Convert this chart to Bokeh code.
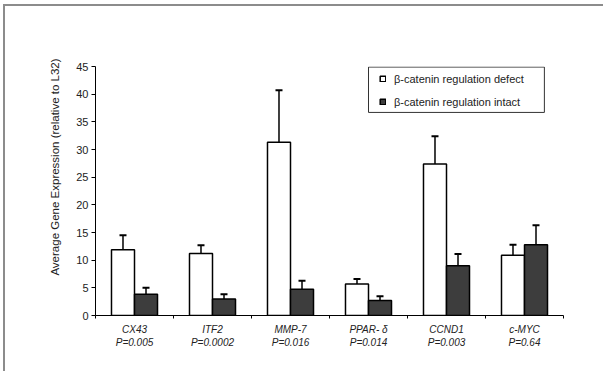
from bokeh.plotting import figure
from bokeh.models import (Range1d, FixedTicker, ColumnDataSource, Whisker, TeeHead,
                          Legend, LegendItem, LinearAxis, BoxAnnotation)
from bokeh.embed import file_html
from bokeh.resources import INLINE

genes = ["CX43", "ITF2", "MMP-7", "PPAR- \u03b4", "CCND1", "c-MYC"]
pvals = ["P=0.005", "P=0.0002", "P=0.016", "P=0.014", "P=0.003", "P=0.64"]
defect = [11.9, 11.2, 31.3, 5.7, 27.4, 10.9]
defect_err = [2.6, 1.5, 9.4, 0.9, 5.0, 1.9]
intact = [3.85, 3.0, 4.75, 2.7, 9.0, 12.8]
intact_err = [1.15, 0.85, 1.55, 0.8, 2.1, 3.5]
yticks = [0, 5, 10, 15, 20, 25, 30, 35, 40, 45]

BW = 0.295
centers = [i + 0.5 for i in range(len(genes))]
bounds = list(range(len(genes) + 1))
xd = [c - BW / 2 for c in centers]
xi = [c + BW / 2 for c in centers]

src_d = ColumnDataSource(dict(x=xd, top=defect, up=[v + e for v, e in zip(defect, defect_err)]))
src_i = ColumnDataSource(dict(x=xi, top=intact, up=[v + e for v, e in zip(intact, intact_err)]))

p = figure(width=600, height=367, output_backend="svg", toolbar_location=None,
           x_range=Range1d(0, 6), y_range=Range1d(0, 45),
           min_border_left=90, min_border_right=42, min_border_top=60, min_border_bottom=58)
p.styles = {"box-shadow": "-2px -2px 0px 0px #8c8c8c",
            "margin-left": "5px", "margin-top": "6px"}
p.outline_line_color = None
p.xgrid.grid_line_color = None
p.ygrid.grid_line_color = None
p.background_fill_color = "white"

# error bars first (behind bars)
for src in (src_d, src_i):
    w = Whisker(source=src, base="x", lower="top", upper="up", dimension="height",
                line_color="black", line_width=1.5,
                upper_head=TeeHead(size=7, line_width=2, line_color="black"),
                lower_head=None)
    p.add_layout(w)

r1 = p.vbar(x="x", top="top", width=BW, bottom=0, source=src_d,
            fill_color="white", line_color="black", line_width=1.5)
r2 = p.vbar(x="x", top="top", width=BW, bottom=0, source=src_i,
            fill_color="#3d3d3d", line_color="black", line_width=1.5)

# y axis
p.yaxis.ticker = FixedTicker(ticks=yticks)
p.yaxis.major_tick_out = 4
p.yaxis.major_tick_in = 0
p.yaxis.minor_tick_line_color = None
p.yaxis.axis_line_color = "black"
p.yaxis.major_label_text_font = "Liberation Sans"
p.yaxis.major_label_text_font_size = "11px"
p.yaxis.major_label_text_color = "#222222"
p.yaxis.major_label_standoff = 3
p.yaxis.axis_label = "\u00a0" * 15 + "Average Gene Expression (relative to L32)"
p.yaxis.axis_label_text_font = "Liberation Sans"
p.yaxis.axis_label_text_font_size = "11.5px"
p.yaxis.axis_label_text_font_style = "normal"
p.yaxis.axis_label_text_color = "#222222"
p.yaxis.axis_label_standoff = 12

# main x axis: gene labels at centers, boundary ticks as minor ticks
p.xaxis.ticker = FixedTicker(ticks=centers, minor_ticks=bounds)
p.xaxis.major_label_overrides = {c: g for c, g in zip(centers, genes)}
p.xaxis.major_tick_line_color = None
p.xaxis.major_tick_out = 0
p.xaxis.major_tick_in = 0
p.xaxis.minor_tick_line_color = "black"
p.xaxis.minor_tick_out = 3
p.xaxis.minor_tick_in = 0
p.xaxis.axis_line_color = "black"
p.xaxis.major_label_standoff = 5
p.xaxis.major_label_text_font = "Liberation Sans"
p.xaxis.major_label_text_font_style = "italic"
p.xaxis.major_label_text_font_size = "10px"
p.xaxis.major_label_text_color = "#222222"

# p-value axis
pax = LinearAxis(ticker=FixedTicker(ticks=centers),
                 major_label_overrides={c: t for c, t in zip(centers, pvals)})
pax.axis_line_color = None
pax.major_tick_line_color = None
pax.minor_tick_line_color = None
pax.major_tick_out = 0
pax.major_tick_in = 0
pax.major_label_standoff = -1
pax.major_label_text_font = "Liberation Sans"
pax.major_label_text_font_style = "italic"
pax.major_label_text_font_size = "10px"
pax.major_label_text_color = "#222222"
p.add_layout(pax, "below")

# legend box
p.add_layout(BoxAnnotation(left=3.5, right=5.755, bottom=36.7, top=44.9,
                           fill_alpha=0, line_color="#333333", line_alpha=1.0,
                           line_width=1))

legend = Legend(items=[
    LegendItem(label="\u03b2-catenin regulation defect", renderers=[r1]),
    LegendItem(label="\u03b2-catenin regulation intact", renderers=[r2]),
], location=(284, 207))
legend.glyph_width = 7
legend.glyph_height = 7
legend.label_standoff = 8
legend.padding = 6
legend.spacing = 10
legend.margin = 0
legend.label_height = 13
legend.label_text_font = "Liberation Sans"
legend.label_text_font_size = "11px"
legend.label_text_color = "#222222"
legend.border_line_color = None
legend.background_fill_alpha = 0
p.add_layout(legend)

open("out.html", "w").write(file_html(p, INLINE))
